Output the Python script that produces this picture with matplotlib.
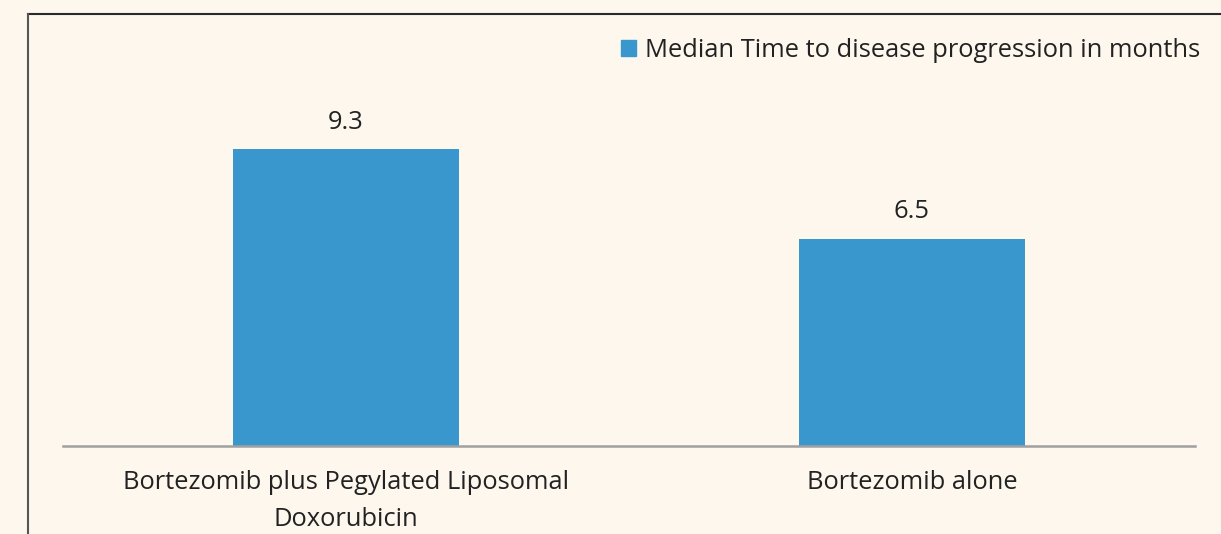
import matplotlib
matplotlib.use("Agg")
from matplotlib import pyplot as plt
from matplotlib.lines import Line2D
from matplotlib.patches import Rectangle

categories = ["Bortezomib plus Pegylated Liposomal\nDoxorubicin", "Bortezomib alone"]
values = [9.3, 6.5]
series_name = "Median Time to disease progression in months"

bg = "#fdf7ee"
bar_color = "#3997ce"
text_color = "#222222"

plt.rcParams["font.family"] = ["Open Sans", "DejaVu Sans"]

fig = plt.figure(figsize=(12.21, 5.34), dpi=100, facecolor=bg)
ax = fig.add_axes([0.0516, 0.1648, 0.9271, 0.7352])
ax.set_facecolor(bg)

x = list(range(len(values)))
ax.bar(x, values, width=0.4, color=bar_color, linewidth=0, label=series_name)

for xi, v in zip(x, values):
    ax.annotate(f"{v}", (xi, v), xytext=(0, 10.5), textcoords="offset points",
                ha="center", va="bottom", fontsize=18.4, color=text_color)

ax.set_xlim(-0.5, 1.5)
ax.set_ylim(0, 12.3)
ax.set_yticks([])
ax.set_xticks(x)
ax.set_xticklabels(categories, fontsize=18.4, color=text_color, linespacing=1.65)
ax.tick_params(axis="x", length=0, pad=17)

for s in ["top", "right", "left"]:
    ax.spines[s].set_visible(False)
ax.spines["bottom"].set_color("#a0a0a0")
ax.spines["bottom"].set_linewidth(1.8)

handles = [Rectangle((0, 0), 1, 1, color=bar_color)]
ax.legend(handles, [series_name], loc="upper right", bbox_to_anchor=(1.025, 1.098),
          frameon=False, fontsize=18.4, handlelength=0.6, handleheight=0.6,
          handletextpad=0.35, labelcolor=text_color)

# outer frame (top and left edges only)
fig.add_artist(Line2D([28 / 1221, 1.0], [1 - 14 / 534, 1 - 14 / 534],
                      transform=fig.transFigure, color="#2a2a2a", linewidth=1.5))
fig.add_artist(Line2D([28 / 1221, 28 / 1221], [0, 1 - 14 / 534],
                      transform=fig.transFigure, color="#555555", linewidth=1.5))

fig.savefig("out.png", dpi=100, facecolor=bg)
